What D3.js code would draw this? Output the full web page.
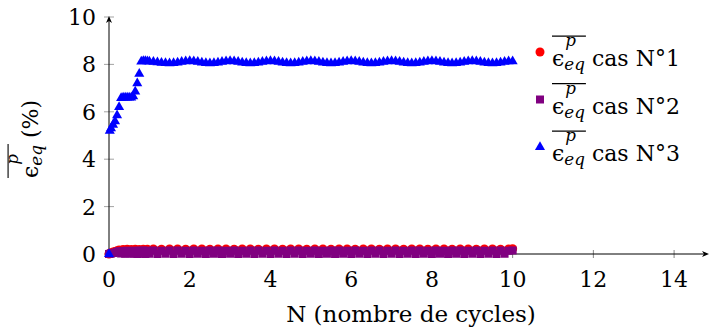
<!DOCTYPE html>
<html>
<head>
<meta charset="utf-8">
<script src="https://cdn.jsdelivr.net/npm/d3@7"></script>
<style>
  body { margin: 0; background: #fff; }
  svg { font-family: "DejaVu Serif", serif; }
  .tick-label { font-size: 22px; fill: #000; }
</style>
</head>
<body>
<svg id="chart" width="709" height="333"></svg>
<script>
// number of cycles (x)
const cycles = [0, 0.02, 0.05, 0.1, 0.15, 0.2, 0.25, 0.3, 0.35, 0.4, 0.45, 0.5, 0.55, 0.6, 0.65, 0.7, 0.75, 0.8, 0.85, 0.9, 0.95, 1.0,
  1.1, 1.2, 1.3, 1.4, 1.5, 1.6, 1.7, 1.8, 1.9, 2.0,
  2.1, 2.2, 2.3, 2.4, 2.5, 2.6, 2.7, 2.8, 2.9, 3.0,
  3.1, 3.2, 3.3, 3.4, 3.5, 3.6, 3.7, 3.8, 3.9, 4.0,
  4.1, 4.2, 4.3, 4.4, 4.5, 4.6, 4.7, 4.8, 4.9, 5.0,
  5.1, 5.2, 5.3, 5.4, 5.5, 5.6, 5.7, 5.8, 5.9, 6.0,
  6.1, 6.2, 6.3, 6.4, 6.5, 6.6, 6.7, 6.8, 6.9, 7.0,
  7.1, 7.2, 7.3, 7.4, 7.5, 7.6, 7.7, 7.8, 7.9, 8.0,
  8.1, 8.2, 8.3, 8.4, 8.5, 8.6, 8.7, 8.8, 8.9, 9.0,
  9.1, 9.2, 9.3, 9.4, 9.5, 9.6, 9.7, 9.8, 9.9, 10.0];

// cas N°1 (red circles)
const cas1 = [0, 0.02, 0.05, 0.08, 0.11, 0.14, 0.17, 0.12, 0.19, 0.12, 0.2, 0.12, 0.19, 0.12, 0.2, 0.11, 0.19, 0.12, 0.2, 0.11, 0.2, 0.12,
  0.21, 0.12, 0.2, 0.11, 0.21, 0.12, 0.21, 0.11, 0.2, 0.12,
  0.21, 0.11, 0.21, 0.12, 0.2, 0.11, 0.21, 0.12, 0.21, 0.11,
  0.2, 0.12, 0.21, 0.11, 0.21, 0.12, 0.2, 0.11, 0.21, 0.12,
  0.21, 0.11, 0.2, 0.12, 0.21, 0.11, 0.21, 0.12, 0.2, 0.11,
  0.21, 0.12, 0.21, 0.11, 0.2, 0.12, 0.21, 0.11, 0.21, 0.12,
  0.2, 0.11, 0.21, 0.12, 0.21, 0.11, 0.2, 0.12, 0.21, 0.11,
  0.21, 0.12, 0.2, 0.11, 0.21, 0.12, 0.21, 0.11, 0.2, 0.12,
  0.21, 0.11, 0.21, 0.12, 0.2, 0.11, 0.21, 0.12, 0.21, 0.11,
  0.2, 0.12, 0.21, 0.11, 0.21, 0.12, 0.2, 0.11, 0.21, 0.22];

// cas N°2 (purple squares)
const cas2 = [0, 0.01, 0.02, 0.04, 0.06, 0.09, 0.12, 0.02, 0.13, 0.01, 0.14, 0.02, 0.13, 0.01, 0.14, 0.0, 0.14, 0.01, 0.15, 0.0, 0.14, 0.01,
  0.15, 0.0, 0.14, 0.01, 0.15, 0.0, 0.15, 0.01, 0.14, 0.0,
  0.15, 0.01, 0.14, 0.0, 0.15, 0.01, 0.15, 0.0, 0.14, 0.01,
  0.15, 0.0, 0.14, 0.01, 0.15, 0.0, 0.15, 0.01, 0.14, 0.0,
  0.15, 0.01, 0.14, 0.0, 0.15, 0.01, 0.15, 0.0, 0.14, 0.01,
  0.15, 0.0, 0.14, 0.01, 0.15, 0.0, 0.15, 0.01, 0.14, 0.0,
  0.15, 0.01, 0.14, 0.0, 0.15, 0.01, 0.15, 0.0, 0.14, 0.01,
  0.15, 0.0, 0.14, 0.01, 0.15, 0.0, 0.15, 0.01, 0.14, 0.0,
  0.15, 0.01, 0.14, 0.0, 0.15, 0.01, 0.15, 0.0, 0.14, 0.01,
  0.15, 0.0, 0.14, 0.01, 0.15, 0.0, 0.15, 0.01, 0.14, 0.15];

// cas N°3 (blue triangles)
const cas3 = [0, 5.2, 5.3, 5.45, 5.6, 5.85, 6.2, 6.58, 6.6, 6.6, 6.6, 6.6, 6.6, 6.65, 6.85, 7.2, 7.6, 8.12, 8.14, 8.14, 8.13, 8.12,
  8.11, 8.09, 8.07, 8.06, 8.05, 8.06, 8.08, 8.11, 8.13, 8.14,
  8.13, 8.11, 8.08, 8.06, 8.05, 8.06, 8.08, 8.11, 8.13, 8.14,
  8.13, 8.11, 8.08, 8.06, 8.05, 8.06, 8.08, 8.11, 8.13, 8.14,
  8.13, 8.11, 8.08, 8.06, 8.05, 8.06, 8.08, 8.11, 8.13, 8.14,
  8.13, 8.11, 8.08, 8.06, 8.05, 8.06, 8.08, 8.11, 8.13, 8.14,
  8.13, 8.11, 8.08, 8.06, 8.05, 8.06, 8.08, 8.11, 8.13, 8.14,
  8.13, 8.11, 8.08, 8.06, 8.05, 8.06, 8.08, 8.11, 8.13, 8.14,
  8.13, 8.11, 8.08, 8.06, 8.05, 8.06, 8.08, 8.11, 8.13, 8.14,
  8.13, 8.11, 8.08, 8.06, 8.05, 8.06, 8.08, 8.11, 8.13, 8.13];

const caseNames = ["cas N°1", "cas N°2", "cas N°3"];
const xTicks = [0, 2, 4, 6, 8, 10, 12, 14];
const yTicks = [0, 2, 4, 6, 8, 10];

const svg = d3.select("#chart");

const x = d3.scaleLinear().domain([0, 14.84]).range([109, 708]);
const y = d3.scaleLinear().domain([0, 10]).range([254, 17]);

const series = [
  { name: caseNames[0], values: cas1, color: "#ff0000", symbol: d3.symbolCircle, size: 64 },
  { name: caseNames[1], values: cas2, color: "#800080", symbol: d3.symbolSquare, size: 64 },
  { name: caseNames[2], values: cas3, color: "#0000ff", symbol: d3.symbolTriangle, size: 44 }
];

//ticks crossing the axes
svg.append("g")
  .selectAll("line")
  .data(xTicks)
  .join("line")
  .attr("x1", d => x(d)).attr("x2", d => x(d))
  .attr("y1", y(0) - 4).attr("y2", y(0) + 4)
  .attr("stroke", "#777").attr("stroke-width", 0.9);

svg.append("g")
  .selectAll("line")
  .data(yTicks)
  .join("line")
  .attr("x1", x(0) - 5).attr("x2", x(0) + 5)
  .attr("y1", d => y(d)).attr("y2", d => y(d))
  .attr("stroke", "#999").attr("stroke-width", 0.9);

// axis lines with arrows
svg.append("line")
  .attr("x1", x(0)).attr("x2", 706)
  .attr("y1", y(0)).attr("y2", y(0))
  .attr("stroke", "#000").attr("stroke-width", 1);
svg.append("path")
  .attr("d", `M709,${y(0)} L702,${y(0) - 3} L704,${y(0)} L702,${y(0) + 3} Z`)
  .attr("fill", "#000");

svg.append("line")
  .attr("x1", x(0)).attr("x2", x(0))
  .attr("y1", y(0)).attr("y2", y(10) + 2)
  .attr("stroke", "#000").attr("stroke-width", 1);
svg.append("path")
  .attr("d", `M${x(0)},${y(10) - 1} L${x(0) - 3},${y(10) + 6} L${x(0)},${y(10) + 4} L${x(0) + 3},${y(10) + 6} Z`)
  .attr("fill", "#000");

// tick labels
svg.append("g")
  .selectAll("text")
  .data(xTicks)
  .join("text")
  .attr("class", "tick-label")
  .attr("x", d => x(d))
  .attr("y", 287)
  .attr("text-anchor", "middle")
  .text(d => d);

svg.append("g")
  .selectAll("text")
  .data(yTicks)
  .join("text")
  .attr("class", "tick-label")
  .attr("x", 96)
  .attr("y", d => y(d))
  .attr("dy", "0.36em")
  .attr("text-anchor", "end")
  .text(d => d);

// x axis title
svg.append("text")
  .attr("x", 411)
  .attr("y", 322)
  .attr("text-anchor", "middle")
  .style("font-size", "23px")
  .text("N (nombre de cycles)");

// markers
for (const s of series) {
  const sym = d3.symbol().type(s.symbol).size(s.size);
  svg.append("g")
    .selectAll("path")
    .data(cycles.map((c, i) => [c, s.values[i]]))
    .join("path")
    .attr("d", sym)
    .attr("transform", d => `translate(${x(d[0])},${y(d[1])})`)
    .attr("fill", s.color);
}

// overlined epsilon with p / eq, returns right end
function drawEps(g, x0, y0, fs) {
  const e = g.append("text")
    .attr("x", x0).attr("y", y0)
    .style("font-size", fs + "px")
    .text("\u03f5");
  const w = e.node().getComputedTextLength();
  const sfs = fs * 0.76;
  const p = g.append("text")
    .attr("x", x0 + w + 1).attr("y", y0 - fs * 0.9)
    .style("font-size", sfs + "px").style("font-style", "italic")
    .text("p");
  const sub = g.append("text")
    .attr("x", x0 + w).attr("y", y0 + fs * 0.2)
    .style("font-size", sfs + "px").style("font-style", "italic")
    .text("eq");
  const end = x0 + w + Math.max(p.node().getComputedTextLength() + 1, sub.node().getComputedTextLength());
  g.append("line")
    .attr("x1", x0).attr("x2", end + 1)
    .attr("y1", y0 - fs * 1.36).attr("y2", y0 - fs * 1.36)
    .attr("stroke", "#000").attr("stroke-width", 1.1);
  return end;
}

// legend
const legend = svg.append("g");
series.forEach((s, i) => {
  const by = 66 + i * 47.5;
  legend.append("path")
    .attr("d", d3.symbol().type(s.symbol).size(s.size)())
    .attr("transform", `translate(540,${by - 14})`)
    .attr("fill", s.color);
  const end = drawEps(legend, 552, by, 22);
  legend.append("text")
    .attr("x", end + 7).attr("y", by)
    .style("font-size", "22px")
    .text(s.name);
});

// y axis title (rotated)
const ylab = svg.append("g").attr("transform", "translate(38,178) rotate(-90)");
const yend = drawEps(ylab, 0, 0, 22);
ylab.append("text")
  .attr("x", yend + 7).attr("y", 0)
  .style("font-size", "22px")
  .text("(%)");
</script>
</body>
</html>
